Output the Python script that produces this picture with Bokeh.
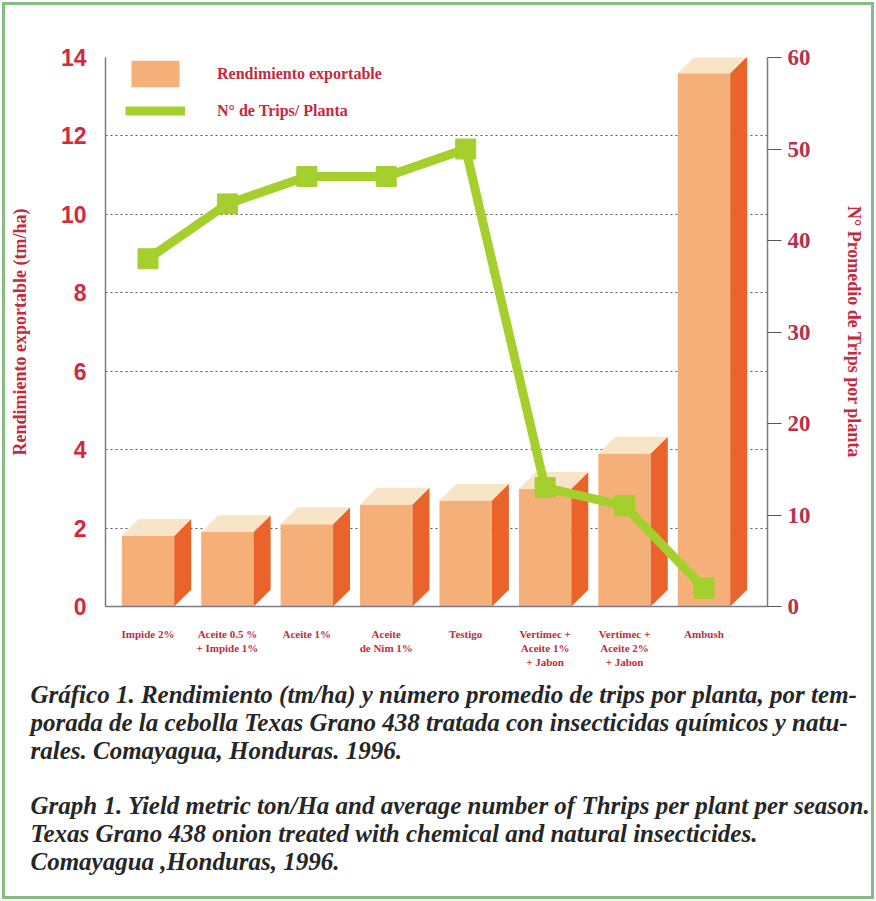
from bokeh.plotting import figure
from bokeh.models import (Range1d, LinearAxis, FixedTicker, Legend, LegendItem,
                          Title, ColumnDataSource)
from bokeh.embed import file_html
from bokeh.resources import INLINE

# ---- data -----------------------------------------------------------------
treatments = [
    "Impide 2%",
    "Aceite 0.5 %\n+ Impide 1%",
    "Aceite 1%",
    "Aceite\nde Nim 1%",
    "Testigo",
    "Vertimec +\nAceite 1%\n+ Jabon",
    "Vertimec +\nAceite 2%\n+ Jabon",
    "Ambush",
]
yield_tm_ha = [1.8, 1.9, 2.1, 2.6, 2.7, 3.0, 3.9, 13.6]
trips_per_plant = [38, 44, 47, 47, 50, 13, 11, 2]

yield_ticks = [0, 2, 4, 6, 8, 10, 12, 14]
trips_ticks = [0, 10, 20, 30, 40, 50, 60]

caption_es = ("Gráfico 1. Rendimiento (tm/ha) y número promedio de trips por planta, por tem-\n"
              "porada de la cebolla Texas Grano 438 tratada con insecticidas químicos y natu-\n"
              "rales. Comayagua, Honduras.  1996.")
caption_en = ("Graph 1. Yield metric ton/Ha and average number of Thrips per plant per season.\n"
              "Texas Grano 438 onion treated with chemical and natural insecticides.\n"
              "Comayagua ,Honduras, 1996.")

# ---- styling --------------------------------------------------------------
RED = "#c42a3e"
FRONT = "#f5b07a"
SIDE = "#e9632b"
TOP = "#f8e4c6"
GREEN = "#a4cf2c"
SERIF = "Liberation Serif"

xs = list(range(len(treatments)))
bar_w = 0.66     # front face width (x units)
depth_x = 0.214  # 3-D depth, x units
depth_y = 0.43   # 3-D depth, yield units

lefts = [i - bar_w / 2 for i in xs]
rights = [i + bar_w / 2 for i in xs]

front_src = ColumnDataSource(dict(left=lefts, right=rights, top=yield_tm_ha,
                                  bottom=[0] * len(xs)))
side_src = ColumnDataSource(dict(
    xs=[[r, r + depth_x, r + depth_x, r] for r in rights],
    ys=[[0, depth_y, v + depth_y, v] for v in yield_tm_ha],
))
top_src = ColumnDataSource(dict(
    xs=[[l, r, r + depth_x, l + depth_x] for l, r in zip(lefts, rights)],
    ys=[[v, v, v + depth_y, v + depth_y] for v in yield_tm_ha],
))

# green page frame drawn by the element itself (canvas border is transparent)
page_frame = {"box-shadow": "inset 0 0 0 2px #ffffff, inset 0 0 0 5px #86bb84",
              "background-color": "#ffffff"}

p = figure(width=876, height=901,
           x_range=Range1d(-0.535, 7.80), y_range=Range1d(0, 14),
           output_backend="svg", toolbar_location=None,
           min_border_left=105, min_border_right=109,
           min_border_top=57, min_border_bottom=295,
           styles=page_frame)
p.outline_line_color = None
p.background_fill_color = "white"
p.border_fill_color = None

# 3-D bars
front_r = p.quad(left="left", right="right", top="top", bottom="bottom",
                 source=front_src, fill_color=FRONT, line_color=None)
p.patches("xs", "ys", source=side_src, fill_color=SIDE, line_color=None)
p.patches("xs", "ys", source=top_src, fill_color=TOP, line_color=None)

# thrips line on the secondary axis
p.extra_y_ranges = {"trips": Range1d(0, 60)}
line_r = p.line(xs, trips_per_plant, y_range_name="trips",
                line_color=GREEN, line_width=9, line_join="round")
p.scatter(xs, trips_per_plant, y_range_name="trips", marker="square",
          size=20, fill_color=GREEN, line_color=GREEN)

# grid
p.xgrid.visible = False
p.ygrid.ticker = FixedTicker(ticks=yield_ticks)
p.ygrid.grid_line_color = "#555555"
p.ygrid.grid_line_dash = "2 3"
p.ygrid.grid_line_width = 1

# x axis
xa = p.xaxis[0]
xa.ticker = FixedTicker(ticks=xs)
xa.major_label_overrides = {i: t for i, t in zip(xs, treatments)}
xa.major_label_text_font = SERIF
xa.major_label_text_font_style = "bold"
xa.major_label_text_font_size = "11px"
xa.major_label_text_color = RED
xa.major_label_standoff = 15
xa.major_tick_line_color = None
xa.minor_tick_line_color = None
xa.axis_line_color = "#7a7a8a"
xa.axis_line_width = 1.5

# left axis
ya = p.yaxis[0]
ya.ticker = FixedTicker(ticks=yield_ticks)
ya.axis_label = "Rendimiento exportable (tm/ha)"
ya.axis_label_text_font = SERIF
ya.axis_label_text_font_style = "bold"
ya.axis_label_text_font_size = "18px"
ya.axis_label_text_color = RED
ya.axis_label_standoff = 28
ya.major_label_text_font = "Liberation Sans"
ya.major_label_text_font_style = "bold"
ya.major_label_text_font_size = "23px"
ya.major_label_text_color = "#d4283c"
ya.major_label_standoff = 13
ya.major_tick_line_color = None
ya.minor_tick_line_color = None
ya.axis_line_color = "#7a7a8a"
ya.axis_line_width = 1.5

# right axis
ra = LinearAxis(y_range_name="trips", ticker=FixedTicker(ticks=trips_ticks),
                axis_label="N° Promedio de Trips por planta")
ra.axis_label_text_font = SERIF
ra.axis_label_text_font_style = "bold"
ra.axis_label_text_font_size = "18px"
ra.axis_label_text_color = RED
ra.axis_label_standoff = 30
ra.major_label_text_font = SERIF
ra.major_label_text_font_style = "bold"
ra.major_label_text_font_size = "23px"
ra.major_label_text_color = "#b8304a"
ra.major_label_standoff = 6
ra.major_tick_out = 14
ra.major_tick_in = 0
ra.major_tick_line_color = "#555566"
ra.minor_tick_line_color = None
ra.axis_line_color = "#7a7a8a"
ra.axis_line_width = 1.5
p.add_layout(ra, "right")

# legend
legend = Legend(items=[
    LegendItem(label="Rendimiento exportable", renderers=[front_r]),
    LegendItem(label="N° de Trips/ Planta", renderers=[line_r]),
], location=(20, 479))
legend.background_fill_alpha = 0
legend.border_line_color = None
legend.padding = 0
legend.margin = 0
legend.spacing = 4
legend.glyph_width = 60
legend.glyph_height = 33
legend.label_standoff = 32
legend.label_text_font = SERIF
legend.label_text_font_style = "bold"
legend.label_text_font_size = "16px"
legend.label_text_color = RED
p.add_layout(legend)

# captions under the chart
for txt, standoff in ((caption_es, 16), (caption_en, 36)):
    t = Title(text=txt, align="left", offset=-75, standoff=standoff,
              text_font=SERIF, text_font_style="bold italic",
              text_font_size="25px", text_line_height=1.04,
              text_color="#262626")
    p.add_layout(t, "below")

open("out.html", "w").write(file_html(p, INLINE))
